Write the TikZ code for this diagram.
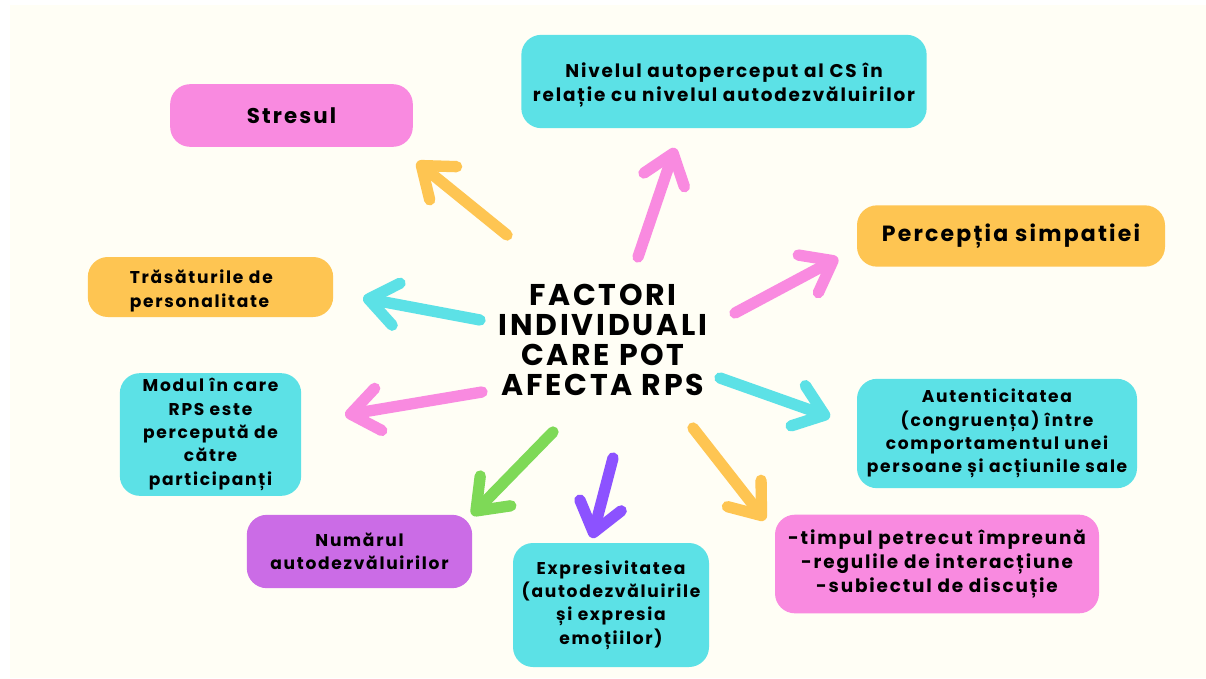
\documentclass[tikz,border=0pt]{standalone}
\usepackage{fontspec}
\setmainfont{Poppins}[LetterSpace=10]
\newfontfamily\titlefont{Poppins}[LetterSpace=9]
\usetikzlibrary{arrows.meta}
\definecolor{cream}{HTML}{FFFEF5}
\definecolor{cpink}{HTML}{F98AE0}
\definecolor{ccyan}{HTML}{5CE1E6}
\definecolor{cyellow}{HTML}{FEC552}
\definecolor{cviolet}{HTML}{CB6CE6}
\definecolor{cgreen}{HTML}{7ED957}
\definecolor{cpurple}{HTML}{8C52FF}
\tikzset{
	box/.style={rounded corners=15pt, inner sep=0pt, align=center, font=\bfseries\fontsize{12.8}{17.5}\selectfont},
	arr/.style={line width=8.5pt, line cap=round, -{Straight Barb[round,length=21pt,width=32pt]}},
}

\begin{document}
\begin{tikzpicture}[x=0.75pt,y=-0.75pt]
			%%%%% START %%%%%
			\useasboundingbox (0,0) rectangle (1206,678);
			\fill[cream] (10,5) rectangle (1206,678);
			
			\node[box, fill=cpink, minimum width=182pt, minimum height=47pt, font=\bfseries\fontsize{16}{20}\selectfont] (stres) at (291.5,115.5) {Stresul};
			\node[box, fill=ccyan, minimum width=304pt, minimum height=70pt, font=\bfseries\fontsize{13.8}{17.5}\selectfont] (nivel) at (724,81.5) {\rule{0pt}{16.5pt}Nivelul autoperceput al CS în\\relație cu nivelul autodezvăluirilor};
			\node[box, fill=cyellow, minimum width=231pt, minimum height=46pt, font=\bfseries\fontsize{16.5}{20}\selectfont] (simpatie) at (1011,236) {Percepția simpatiei};
			\node[box, fill=cyellow, minimum width=184pt, minimum height=45pt, align=left, text width=121pt] (trasaturi) at (210.5,287) {\rule{0pt}{16pt}Trăsăturile de\\personalitate};
			\node[box, fill=ccyan, minimum width=136pt, minimum height=92pt] (modul) at (210.5,434.5) {Modul în care\\RPS este\\percepută de\\către\\participanți};
			\node[box, fill=cviolet, minimum width=169pt, minimum height=55pt] (numar) at (359.5,551.5) {Numărul\\autodezvăluirilor};
			\node[box, fill=ccyan, minimum width=147pt, minimum height=93pt] (expres) at (611,605) {Expresivitatea\\(autodezvăluirile\\și expresia\\emoțiilor)};
			\node[box, fill=cpink, minimum width=243pt, minimum height=74pt, font=\bfseries\fontsize{13.8}{18}\selectfont] (timp) at (937,564) {-timpul petrecut împreună\\-regulile de interacțiune\\-subiectul de discuție};
			\node[box, fill=ccyan, minimum width=210pt, minimum height=82pt] (autentic) at (997,433.5) {Autenticitatea\\(congruența) între\\comportamentul unei\\persoane și acțiunile sale};
			
			\node[align=center, font=\titlefont\bfseries\fontsize{22.5}{22.5}\selectfont] (factori) at (603,340) {FACTORI\\INDIVIDUALI\\CARE POT\\AFECTA RPS};
			
			% arrow ends
			\coordinate (t1) at (507,235); \coordinate (h1) at (417,162);
			\coordinate (t2) at (638,257); \coordinate (h2) at (675,148);
			\coordinate (t3) at (735,313); \coordinate (h3) at (838,258);
			\coordinate (t4) at (480,320); \coordinate (h4) at (363,298);
			\coordinate (t5) at (482,392); \coordinate (h5) at (345,415);
			\coordinate (t6) at (720,378); \coordinate (h6) at (830,417);
			\coordinate (t7) at (553,432); \coordinate (h7) at (472,515);
			\coordinate (t8) at (613,458); \coordinate (h8) at (592,538);
			\coordinate (t9) at (693,428); \coordinate (h9) at (765,520);
			
			\draw[arr, cyellow] (t1) -- (h1);
			\draw[arr, cpink] (t2) -- (h2);
			\draw[arr, cpink] (t3) -- (h3);
			\draw[arr, ccyan] (t4) -- (h4);
			\draw[arr, cpink] (t5) -- (h5);
			\draw[arr, ccyan] (t6) -- (h6);
			\draw[arr, cgreen] (t7) -- (h7);
			\draw[arr, cpurple] (t8) -- (h8);
			\draw[arr, cyellow] (t9) -- (h9);
			%%%%% END %%%%%
\end{tikzpicture}
\end{document}
